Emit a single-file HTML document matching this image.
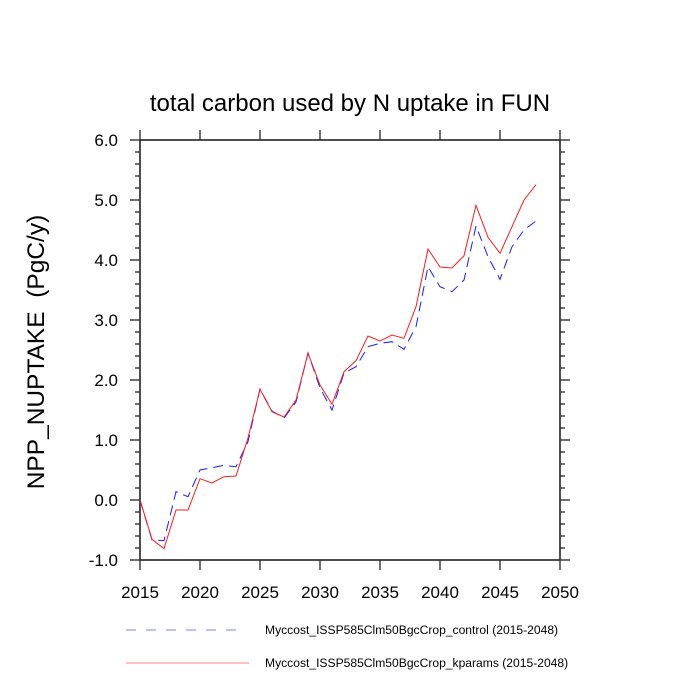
<!DOCTYPE html>
<html><head><meta charset="utf-8"><style>body{margin:0;background:#fff}svg{display:block}text{font-family:"Liberation Sans",Arial,sans-serif;fill:#000}</style></head>
<body>
<svg width="700" height="700" viewBox="0 0 700 700">
<text x="350" y="111" font-size="24" text-anchor="middle">total carbon used by N uptake in FUN</text>
<text transform="translate(44,352) rotate(-90)" font-size="24.5" text-anchor="middle" xml:space="preserve">NPP_NUPTAKE  (PgC/y)</text>
<g stroke="#222" stroke-width="1.6" fill="none">
<rect x="140" y="140" width="420" height="420"/>
</g>
<g stroke="#333" stroke-width="1.4" id="ticks"></g>
<g font-size="17" text-anchor="end" id="ylab"></g>
<g font-size="17" text-anchor="middle" id="xlab"></g>
<polyline fill="none" stroke="#1a1aff" stroke-width="1" stroke-dasharray="10,6" points="140,500 152,540 164,540.7 176,491.7 188,496.7 200,470 212,467.7 224,465.3 236,466.7 248,441.7 260,389 272,411 284,418 296,402 308,353 320,388 332,410 344,373 356,366.7 368,346.7 380,343.3 392,341.7 404,349.3 416,326.7 428,266.7 440,286.7 452,291.7 464,280 476,226 488,256.7 500,279.3 512,246.7 524,230 536,221"/>
<polyline fill="none" stroke="#ff1a1a" stroke-width="1" points="140,500 152,539.3 164,548.7 176,510 188,510 200,478.7 212,483 224,476.7 236,476 248,438 260,389.3 272,411.7 284,417 296,400 308,353.3 320,385 332,404.3 344,371.7 356,360.7 368,336 380,341 392,335 404,338.3 416,306.7 428,249 440,267 452,268 464,255.7 476,205.3 488,237.3 500,253.3 512,226.7 524,200 536,184.7"/>
<line x1="126" y1="630" x2="242" y2="630" stroke="#8080ff" stroke-width="1" stroke-dasharray="10,10"/>
<text x="265" y="634" font-size="12.1">Myccost_ISSP585Clm50BgcCrop_control (2015-2048)</text>
<line x1="126" y1="663" x2="249" y2="663" stroke="#ff8080" stroke-width="1"/>
<text x="265" y="667" font-size="12.1">Myccost_ISSP585Clm50BgcCrop_kparams (2015-2048)</text>
<script>
var t=document.getElementById('ticks'),yl=document.getElementById('ylab'),xl=document.getElementById('xlab'),ns='http://www.w3.org/2000/svg';
function L(a,b,c,d){var l=document.createElementNS(ns,'line');l.setAttribute('x1',a);l.setAttribute('y1',b);l.setAttribute('x2',c);l.setAttribute('y2',d);t.appendChild(l);}
function T(g,x,y,s){var e=document.createElementNS(ns,'text');e.setAttribute('x',x);e.setAttribute('y',y);e.textContent=s;g.appendChild(e);}
for(var i=0;i<=35;i++){var y=560-i*12;var maj=i%5==0;var len=maj?10:5;L(140,y,140-len,y);L(560,y,560+len,y);if(maj)T(yl,118,y+6,((i/5)-1).toFixed(1));}
for(var k=0;k<=7;k++){var x=140+k*60;L(x,560,x,570);L(x,140,x,130);T(xl,x,598,2015+5*k);}
</script>
</svg>
</body></html>
